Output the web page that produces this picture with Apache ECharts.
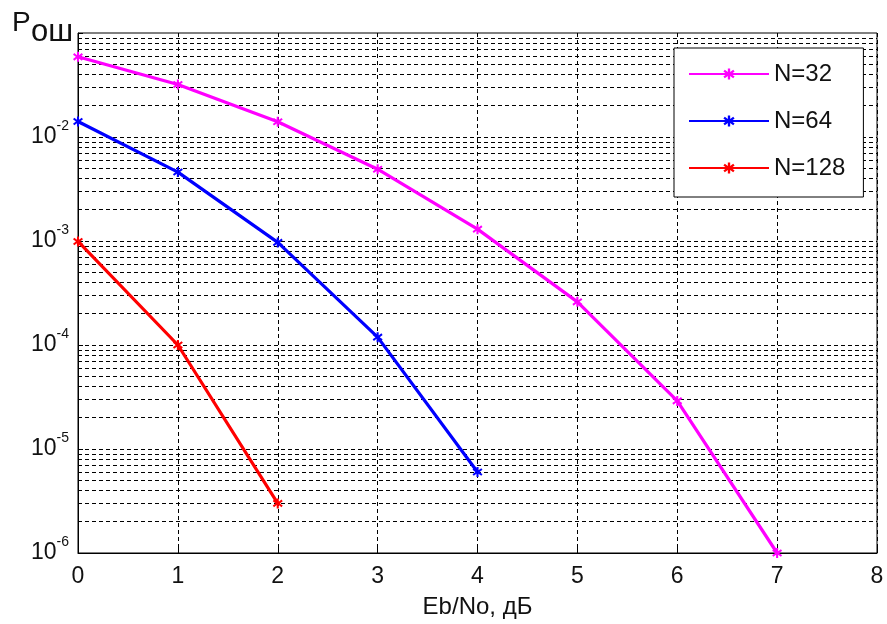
<!DOCTYPE html>
<html>
<head>
<meta charset="utf-8">
<script src="https://cdn.jsdelivr.net/npm/echarts@6/dist/echarts.min.js"></script>
<style>
  html,body{margin:0;padding:0;background:#fff;}
  #chart{width:887px;height:624px;}
</style>
</head>
<body>
<div id="chart"></div>
<script>
// Eb/No, dB
var ebno = [0, 1, 2, 3, 4, 5, 6, 7];
// bit error probability for each block size
var n32 = [0.059, 0.032, 0.014, 0.0049, 0.0013, 0.00026, 0.000029, 0.000001];
var n64 = [0.0141, 0.0046, 0.00097, 0.000119, 0.000006];
var n128 = [0.00099, 0.0001, 0.000003];
var seriesNames = ['N=32', 'N=64', 'N=128'];
var seriesColors = ['#ff00ff', '#0000ff', '#ff0000'];
// decades with labels, and minor grid mantissas
var decades = [1e-6, 1e-5, 1e-4, 1e-3, 1e-2, 1e-1];
var mantissas = [2, 3, 4, 5, 6, 7, 8, 9];

var textColor = '#111';
var gridColor = '#000';
var fontFamily = '"Liberation Sans", Arial, sans-serif';
// asterisk-like marker
var starMark = 'path://M4,0H6V3.3L8.6,1.2L9.8,2.8L7,5L9.8,7.2L8.6,8.8L6,6.7V10H4V6.7L1.4,8.8L0.2,7.2L3,5L0.2,2.8L1.4,1.2L4,3.3Z';

function pairs(ys) {
  return ys.map(function (y, i) { return [ebno[i], y]; });
}

// horizontal dashed grid lines (majors + minors), drawn through the axes
var gridLines = [];
decades.forEach(function (d) {
  if (d < 0.1) {
    gridLines.push({ coords: [[0, d], [8, d]] });
    mantissas.forEach(function (m) {
      var v = +(m * d).toPrecision(3);
      gridLines.push({ coords: [[0, v], [8, v]] });
    });
  }
});

var myChart = echarts.init(document.getElementById('chart'));
var dataSets = [n32, n64, n128];

var series = dataSets.map(function (ys, i) {
  return {
    name: seriesNames[i],
    type: 'line',
    data: pairs(ys),
    symbol: starMark,
    symbolSize: 10,
    showSymbol: true,
    lineStyle: { color: seriesColors[i], width: 3.2 },
    itemStyle: { color: seriesColors[i] },
    animation: false,
    z: 5
  };
});

series.unshift({
  name: 'grid',
  type: 'lines',
  coordinateSystem: 'cartesian2d',
  silent: true,
  animation: false,
  z: 1,
  lineStyle: { color: gridColor, type: [4, 3], width: 1, opacity: 1 },
  data: gridLines
});

var titleStyle = { fontWeight: 'normal', color: textColor, fontFamily: fontFamily };

var option = {
  backgroundColor: '#fff',
  textStyle: { fontFamily: fontFamily },
  title: [
    {
      left: 12, top: 9, padding: 0, text: 'P',
      textStyle: Object.assign({ fontSize: 28 }, titleStyle)
    },
    {
      left: 31, top: 17, padding: 0, text: 'ош',
      textStyle: Object.assign({ fontSize: 31 }, titleStyle)
    }
  ],
  grid: {
    left: 78,
    right: 10,
    top: 33,
    bottom: 70,
    show: true,
    borderColor: '#000',
    borderWidth: 1,
    containLabel: false
  },
  legend: {
    data: seriesNames,
    orient: 'vertical',
    left: 674,
    top: 48,
    itemWidth: 80,
    itemHeight: 14,
    itemGap: 23,
    padding: [14, 18, 17, 14],
    backgroundColor: '#fff',
    borderColor: '#000',
    borderWidth: 1,
    borderRadius: 0,
    textStyle: { fontSize: 24, color: textColor, fontFamily: fontFamily }
  },
  xAxis: {
    type: 'value',
    min: 0,
    max: 8,
    interval: 1,
    name: 'Eb/No, дБ',
    nameLocation: 'middle',
    nameGap: 42,
    nameTextStyle: { fontSize: 24, color: textColor, fontFamily: fontFamily },
    axisLine: { show: true, lineStyle: { color: '#000', width: 1 } },
    axisTick: { show: true, inside: true, length: 5, lineStyle: { color: '#000' } },
    axisLabel: { fontSize: 23, color: textColor, margin: 12 },
    splitLine: { show: true, lineStyle: { color: gridColor, type: [4, 3], width: 1 } }
  },
  yAxis: {
    type: 'log',
    logBase: 10,
    min: 1e-6,
    max: 0.1,
    axisLine: { show: true, lineStyle: { color: '#000', width: 1 } },
    axisTick: { show: true, inside: true, length: 5, lineStyle: { color: '#000' } },
    splitLine: { show: false },
    axisLabel: {
      margin: 9,
      formatter: function (v) {
        var e = Math.round(Math.log10(v));
        if (e >= -1) return '';
        return '{b|10}{s|' + e + '}';
      },
      rich: {
        b: { fontSize: 23, color: textColor, fontFamily: fontFamily, lineHeight: 36, verticalAlign: 'middle' },
        s: { fontSize: 14, color: textColor, fontFamily: fontFamily, lineHeight: 14, verticalAlign: 'top' }
      }
    }
  },
  series: series
};

myChart.setOption(option);
</script>
</body>
</html>
